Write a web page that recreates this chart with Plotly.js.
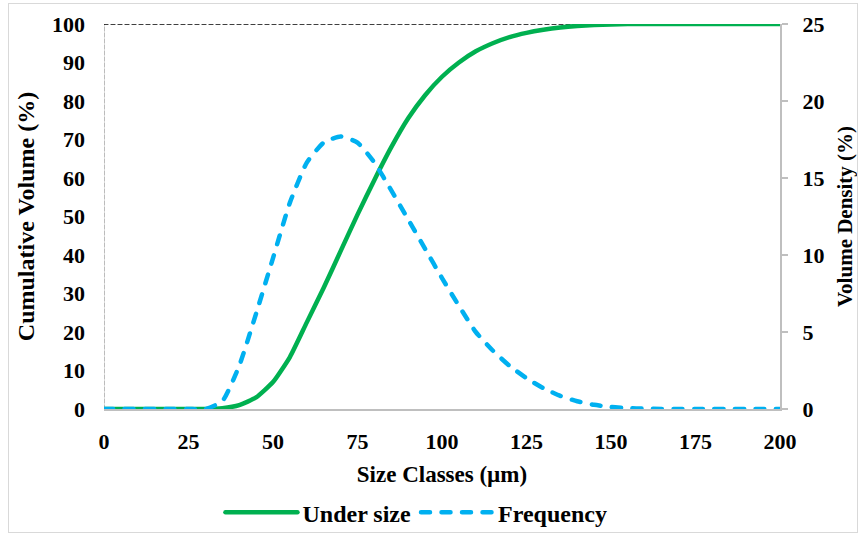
<!DOCTYPE html>
<html>
<head>
<meta charset="utf-8">
<script src="https://cdn.plot.ly/plotly-3.0.1.min.js"></script>
<style>
  html, body { margin: 0; padding: 0; background: #fff; }
  #frame { position: absolute; left: 8px; top: 3px; width: 850px; height: 530px; border: 1.5px solid #d9d9d9; box-sizing: border-box; pointer-events: none; z-index: 5; }
  #chart { position: absolute; left: 0; top: 0; width: 864px; height: 533px; }
  path.js-line { stroke-linecap: round; }
</style>
</head>
<body>
<div id="chart"></div>
<div id="frame"></div>
<script>
// Size classes (µm)
const sizeClasses = [0,5,10,15,20,25,30,35,40,45,50,55,60,65,70,75,80,85,90,95,100,105,110,115,120,125,130,135,140,145,150,155,160,165,170,175,180,185,190,195,200];
// Cumulative volume, under size (%)
const underSize = [0,0,0,0,0,0,0,0.2,1.0,3.0,7.0,13.5,22.5,31.5,41,50.5,59.5,68,75.5,81.5,86.3,90.0,92.9,95.0,96.6,97.7,98.5,99.1,99.5,99.75,99.9,99.97,100,100,100,100,100,100,100,100,100];
// Volume density, frequency (%)
const frequency = [0,0,0,0,0,0,0,0.5,2.8,6.2,9.8,13.4,16.0,17.3,17.7,17.3,16.0,14.2,12.3,10.4,8.5,6.7,5.0,3.8,2.8,2.0,1.35,0.85,0.5,0.27,0.13,0.06,0.02,0,0,0,0,0,0,0,0];
// Reference lines
const refTopX = [0, 200];
const refTopY = [100, 100];
const refLeftX = [0, 0];
const refLeftY = [0, 100];

const font = "Liberation Serif, Times New Roman, serif";

const traces = [
  { x: refLeftX, y: refLeftY, mode: 'lines', line: { color: '#a6a6a6', width: 1.5, dash: '4px,2px' }, showlegend: false, hoverinfo: 'skip' },
  { x: refTopX, y: refTopY, mode: 'lines', line: { color: '#000000', width: 1.3, dash: '4px,3px' }, showlegend: false, hoverinfo: 'skip' },
  { x: sizeClasses, y: underSize, name: 'Under size', mode: 'lines', line: { color: '#00b050', width: 4.5, shape: 'spline', smoothing: 0.5 } },
  { x: sizeClasses, y: frequency, name: 'Frequency', yaxis: 'y2', mode: 'lines', line: { color: '#00b0f0', width: 4.5, dash: '9px,11.5px', shape: 'spline', smoothing: 0.5 } }
];

const layout = {
  width: 864, height: 533,
  margin: { l: 104, r: 84, t: 24, b: 124 },
  paper_bgcolor: '#fff', plot_bgcolor: '#fff',
  font: { family: font, size: 22, color: '#000', weight: 'bold' },
  showlegend: true,
  legend: { orientation: 'h', xref: 'container', yref: 'container', x: 0.482, y: 0.038, xanchor: 'center', yanchor: 'middle',
            font: { family: font, size: 24, weight: 'bold' }, itemwidth: 72, tracegroupgap: 0, traceorder: 'normal' },
  xaxis: {
    range: [0, 200], dtick: 25, tick0: 0, showgrid: false, zeroline: false,
    showline: true, linecolor: '#bfbfbf', linewidth: 2, ticks: '',
    ticklabelstandoff: 12,
    tickfont: { family: font, size: 22, weight: 'bold' },
    title: { text: 'Size Classes (µm)', font: { family: font, size: 23, weight: 'bold' }, standoff: 12 }
  },
  yaxis: {
    range: [0, 100], dtick: 10, showgrid: false, zeroline: false, showline: false, ticks: '',
    ticklabelstandoff: 18,
    tickfont: { family: font, size: 22, weight: 'bold' },
    title: { text: 'Cumulative Volume (%)', font: { family: font, size: 24, weight: 'bold' }, standoff: 10 }
  },
  yaxis2: {
    range: [0, 25], dtick: 5, overlaying: 'y', side: 'right', showgrid: false, zeroline: false,
    showline: true, linecolor: '#bfbfbf', linewidth: 2, ticks: 'outside', ticklen: 6, tickcolor: '#bfbfbf', tickwidth: 2,
    ticklabelstandoff: 10,
    tickfont: { family: font, size: 22, weight: 'bold' },
    title: { text: 'Volume Density (%)', font: { family: font, size: 21, weight: 'bold' }, standoff: 14 }
  }
};

Plotly.newPlot('chart', traces, layout, { staticPlot: true, displayModeBar: false });
</script>
</body>
</html>
